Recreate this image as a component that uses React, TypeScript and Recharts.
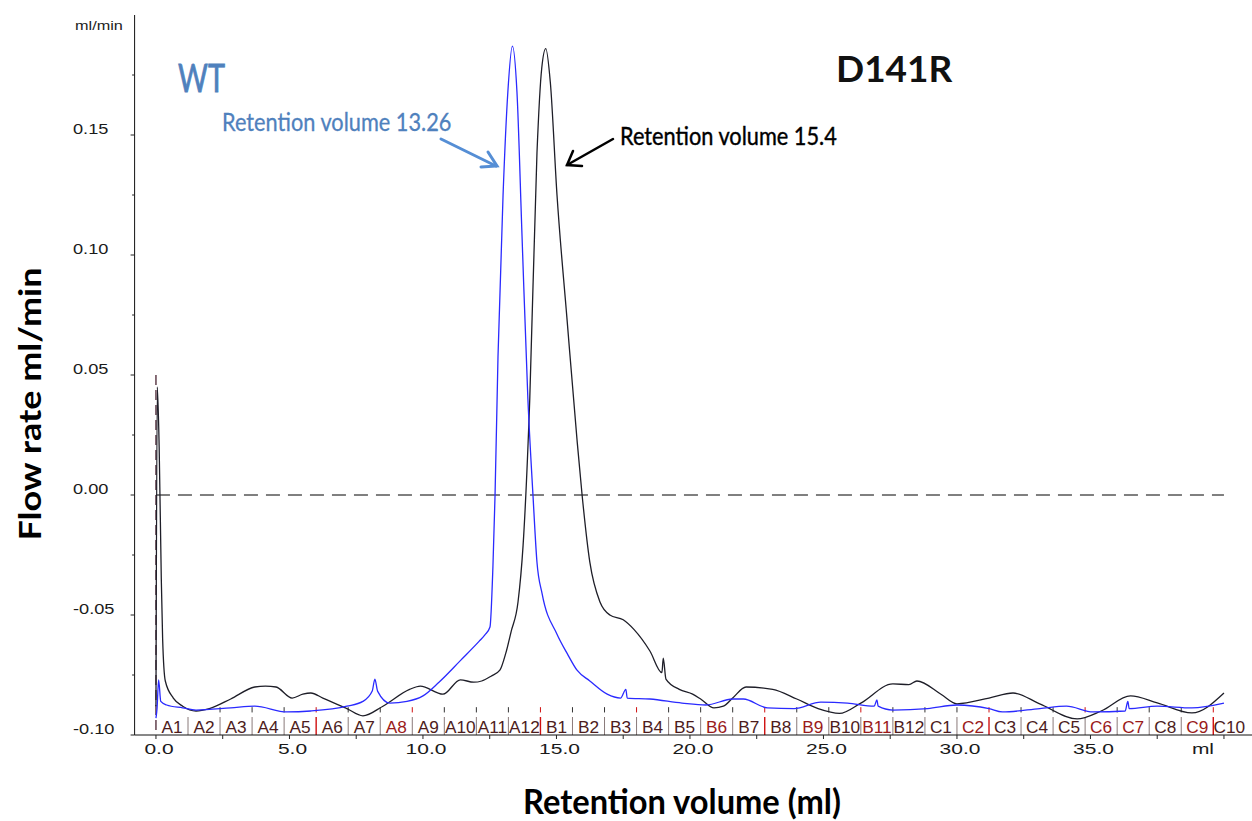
import { LineChart, Line, XAxis, YAxis, ReferenceLine, ReferenceArea } from "recharts";

// WT trace (blue)
const wtVolume = [0, 0.04, 0.1, 0.18, 0.4, 1.0, 1.5, 2.8, 3.7, 4.9, 5.8, 7.15, 7.75, 8.1, 8.2, 8.3, 8.76, 9.4, 10.0, 10.6, 11.4, 12.1, 12.32, 12.51, 12.62, 12.7, 12.81, 13.0, 13.18, 13.35, 13.52, 13.71, 13.93, 14.12, 14.27, 14.46, 15.02, 15.4, 15.77, 16.25, 16.9, 17.4, 17.6, 17.65, 18.5, 19.7, 20.6, 21.6, 22.0, 22.9, 23.9, 24.9, 25.9, 26.9, 27.0, 27.05, 27.6, 28.9, 30.0, 31.2, 31.7, 33.1, 34.1, 35.1, 36.3, 36.4, 36.45, 37.5, 38.8, 40.0];
const wtFlow = [-0.093, -0.089, -0.077, -0.086, -0.0875, -0.0887, -0.0896, -0.0887, -0.088, -0.0904, -0.09, -0.088, -0.086, -0.0817, -0.0767, -0.0817, -0.0867, -0.086, -0.0837, -0.078, -0.069, -0.061, -0.0583, -0.055, -0.03, 0.0, 0.0575, 0.125, 0.168, 0.187, 0.168, 0.108, 0.04, 0.0, -0.028, -0.041, -0.058, -0.066, -0.073, -0.0775, -0.083, -0.0846, -0.081, -0.0846, -0.085, -0.0867, -0.0875, -0.085, -0.085, -0.0887, -0.089, -0.0863, -0.0867, -0.088, -0.0854, -0.088, -0.0896, -0.089, -0.0875, -0.089, -0.0904, -0.089, -0.088, -0.0904, -0.09, -0.086, -0.089, -0.088, -0.0887, -0.0867];

// D141R trace (black)
const d141rVolume = [0, 0.05, 0.12, 0.2, 0.25, 0.35, 0.65, 1.0, 1.5, 2.0, 2.8, 3.7, 4.1, 4.5, 5.1, 5.5, 5.8, 6.25, 7.15, 7.75, 8.5, 9.5, 9.9, 10.75, 11.4, 11.9, 12.2, 12.55, 12.88, 13.1, 13.3, 13.56, 13.75, 14.0, 14.27, 14.45, 14.6, 14.77, 15.02, 15.39, 15.77, 15.96, 16.25, 16.63, 17.0, 17.5, 17.9, 18.5, 18.95, 19.0, 19.1, 19.6, 20.1, 20.4, 20.9, 21.25, 21.6, 22.1, 23.1, 24.0, 24.8, 25.6, 26.4, 27.6, 28.2, 28.5, 29.4, 30.0, 31.2, 32.1, 33.1, 34.5, 35.4, 36.5, 37.5, 38.8, 40.0];
const d141rFlow = [-0.088, 0.045, 0.02, -0.035, -0.06, -0.0775, -0.0846, -0.088, -0.09, -0.089, -0.085, -0.08, -0.0796, -0.08, -0.0846, -0.083, -0.0825, -0.0846, -0.089, -0.092, -0.088, -0.081, -0.0796, -0.083, -0.077, -0.078, -0.0775, -0.0755, -0.073, -0.066, -0.057, -0.0446, -0.021, 0.04, 0.1425, 0.178, 0.186, 0.172, 0.125, 0.074, 0.023, 0.0, -0.028, -0.0446, -0.05, -0.052, -0.056, -0.065, -0.074, -0.068, -0.0767, -0.081, -0.083, -0.085, -0.0887, -0.088, -0.0846, -0.08, -0.081, -0.085, -0.089, -0.091, -0.0867, -0.0787, -0.079, -0.0775, -0.083, -0.087, -0.0846, -0.0825, -0.087, -0.0933, -0.09, -0.0837, -0.0866, -0.0908, -0.0825];

const yTicks = [-0.1, -0.075, -0.05, -0.025, 0, 0.025, 0.05, 0.075, 0.1, 0.125, 0.15, 0.175];
const yTickLabels = ["-0.10", "", "-0.05", "", "0.00", "", "0.05", "", "0.10", "", "0.15", ""];
const xTicks = [0, 2.5, 5, 7.5, 10, 12.5, 15, 17.5, 20, 22.5, 25, 27.5, 30, 32.5, 35, 37.5, 40];
const xTickLabels = ["0.0", "", "5.0", "", "10.0", "", "15.0", "", "20.0", "", "25.0", "", "30.0", "", "35.0", "", "ml"];

const fractions = ["A1", "A2", "A3", "A4", "A5", "A6", "A7", "A8", "A9", "A10", "A11", "A12", "B1", "B2", "B3", "B4", "B5", "B6", "B7", "B8", "B9", "B10", "B11", "B12", "C1", "C2", "C3", "C4", "C5", "C6", "C7", "C8", "C9", "C10"];
const fractionSize = 1.2;
const redFractions = ["A8", "B6", "B9", "B11", "C2", "C6", "C7", "C9"];
const redBoundaries = [5, 12, 19, 26, 33];
const redMarks = [5, 8, 12, 15, 19, 22, 26, 29, 33];

const wtData = wtVolume.map((v, i) => ({ v, f: wtFlow[i] }));
const d141rData = d141rVolume.map((v, i) => ({ v, f: d141rFlow[i] }));

const AXIS_X = 134.6;
const AXIS_Y = 735;
const ARIAL = "'Liberation Sans', Arial, sans-serif";
const CAL = "Lato, 'Open Sans', sans-serif";

function YTick({ y, payload }: any) {
  const i = yTicks.findIndex((t) => Math.abs(t - payload.value) < 1e-9);
  const label = yTickLabels[i] || "";
  return (
    <g>
      <line x1={AXIS_X - (label ? 4 : 2.5)} x2={AXIS_X} y1={y} y2={y} stroke="#222" />
      {label && (
        <text transform={`translate(73 ${y - 1}) scale(1.3 1)`} fontFamily={ARIAL} fontSize={14} fill="#1a1a1a">
          {label}
        </text>
      )}
    </g>
  );
}

function XTick({ x, payload }: any) {
  const i = xTicks.findIndex((t) => Math.abs(t - payload.value) < 1e-9);
  const label = xTickLabels[i] || "";
  return (
    <g>
      <line x1={x} x2={x} y1={AXIS_Y} y2={AXIS_Y + 4} stroke="#222" />
      {label && (
        <text
          transform={`translate(${x + (label === "ml" ? -21 : 3)} 754) scale(1.4 1)`}
          textAnchor="middle"
          fontFamily={ARIAL}
          fontSize={15}
          fill="#1a1a1a"
        >
          {label}
        </text>
      )}
    </g>
  );
}

function FracLabel({ viewBox, text }: any) {
  if (!viewBox) return null;
  const cx = viewBox.x + viewBox.width / 2;
  const red = redFractions.includes(text);
  return (
    <text
      transform={`translate(${cx} ${viewBox.y + viewBox.height - 2.5}) scale(1.08 1)`}
      textAnchor="middle"
      fontFamily={ARIAL}
      fontSize={16}
      fill={red ? "#9a1a1a" : "#4d1c1c"}
    >
      {text}
    </text>
  );
}

export default function App() {
  return (
    <div style={{ position: "absolute", left: 0, top: 0, width: 1252, height: 821, background: "#fff" }}>
      <LineChart width={1252} height={821} margin={{ top: 15, right: 0, bottom: 56, left: AXIS_X - 60 }}>
        <XAxis
          type="number"
          dataKey="v"
          domain={[-0.8, 41.05]}
          ticks={xTicks}
          interval={0}
          tick={<XTick />}
          tickLine={false}
          axisLine={{ stroke: "#111" }}
          height={30}
          allowDataOverflow
        />
        <YAxis
          type="number"
          dataKey="f"
          domain={[-0.1, 0.2]}
          ticks={yTicks}
          interval={0}
          tick={<YTick />}
          tickLine={false}
          axisLine={{ stroke: "#111" }}
          width={60}
          allowDataOverflow
        />
        {fractions.map((f, i) => (
          <ReferenceArea
            key={f}
            x1={i * fractionSize}
            x2={(i + 1) * fractionSize}
            y1={-0.1}
            y2={-0.0925}
            fill="none"
            fillOpacity={0}
            stroke="none"
            ifOverflow="visible"
            label={<FracLabel text={f} />}
          />
        ))}
        {fractions.slice(1).map((f, k) => {
          const i = k + 1;
          const red = redBoundaries.includes(i);
          return (
            <ReferenceLine
              key={"sep" + f}
              segment={[{ x: i * fractionSize, y: -0.1 }, { x: i * fractionSize, y: -0.0925 }]}
              stroke={red ? "#d01010" : "#8a7a7a"}
              strokeWidth={red ? 1.4 : 1}
              ifOverflow="visible"
            />
          );
        })}
        {fractions.slice(2).map((f, k) => {
          const i = k + 2;
          const red = redMarks.includes(i);
          return (
            <ReferenceLine
              key={"mark" + f}
              segment={[{ x: i * fractionSize, y: -0.0906 }, { x: i * fractionSize, y: -0.0884 }]}
              stroke={red ? "#d01010" : "#333"}
              strokeWidth={1}
              ifOverflow="visible"
            />
          );
        })}
        <ReferenceLine
          segment={[{ x: 0, y: 0.05 }, { x: 0, y: -0.1 }]}
          stroke="#3a1020"
          strokeDasharray="10 5"
          strokeWidth={1.2}
          ifOverflow="visible"
        />
        <ReferenceLine
          segment={[{ x: 0, y: 0 }, { x: 40, y: 0 }]}
          stroke="#000"
          strokeDasharray="14 8"
          strokeWidth={1}
          ifOverflow="visible"
        />
        <Line
          data={d141rData}
          dataKey="f"
          type="monotone"
          stroke="#1e1e28"
          strokeWidth={1.3}
          dot={false}
          isAnimationActive={false}
        />
        <Line
          data={wtData}
          dataKey="f"
          type="monotone"
          stroke="#2a2aff"
          strokeWidth={1.3}
          dot={false}
          isAnimationActive={false}
        />
      </LineChart>
      <svg width={1252} height={821} style={{ position: "absolute", left: 0, top: 0, pointerEvents: "none" }}>
        <text transform="translate(75 30) scale(1.25 1)" fontFamily={ARIAL} fontSize={13} fill="#222">
          ml/min
        </text>
        <text
          transform="translate(178 92) scale(0.76 1)"
          fontFamily={CAL}
          fontSize={38}
          fill="#4f81bd"
          stroke="#4f81bd"
          strokeWidth={0.8}
        >
          WT
        </text>
        <text
          transform="translate(222 131) scale(0.87 1)"
          fontFamily={CAL}
          fontSize={25}
          fill="#4f81bd"
          stroke="#4f81bd"
          strokeWidth={0.3}
        >
          Retention volume 13.26
        </text>
        <text x={836} y={82} fontFamily={CAL} fontSize={37} fontWeight={700} fill="#111">
          D141R
        </text>
        <text
          transform="translate(620 145) scale(0.87 1)"
          fontFamily={CAL}
          fontSize={25}
          fill="#000"
          stroke="#000"
          strokeWidth={0.4}
        >
          Retention volume 15.4
        </text>
        <g stroke="#558ed5" strokeWidth={3} strokeLinecap="round" fill="none">
          <line x1={441} y1={139} x2={496} y2={166} />
          <polyline points="481,167 497,166 488,152" />
        </g>
        <g stroke="#000" strokeWidth={2.5} strokeLinecap="round" fill="none">
          <line x1={613} y1={139} x2={567} y2={165} />
          <polyline points="582,166 567,165 573,151" />
        </g>
        <text
          transform="translate(41 404) scale(0.82 1) rotate(-90)"
          textAnchor="middle"
          fontFamily={CAL}
          fontSize={36}
          fontWeight={700}
          fill="#000"
        >
          Flow rate ml/min
        </text>
        <text
          transform="translate(682 814) scale(0.96 1)"
          textAnchor="middle"
          fontFamily={CAL}
          fontSize={34}
          fontWeight={700}
          fill="#000"
        >
          Retention volume (ml)
        </text>
      </svg>
    </div>
  );
}
